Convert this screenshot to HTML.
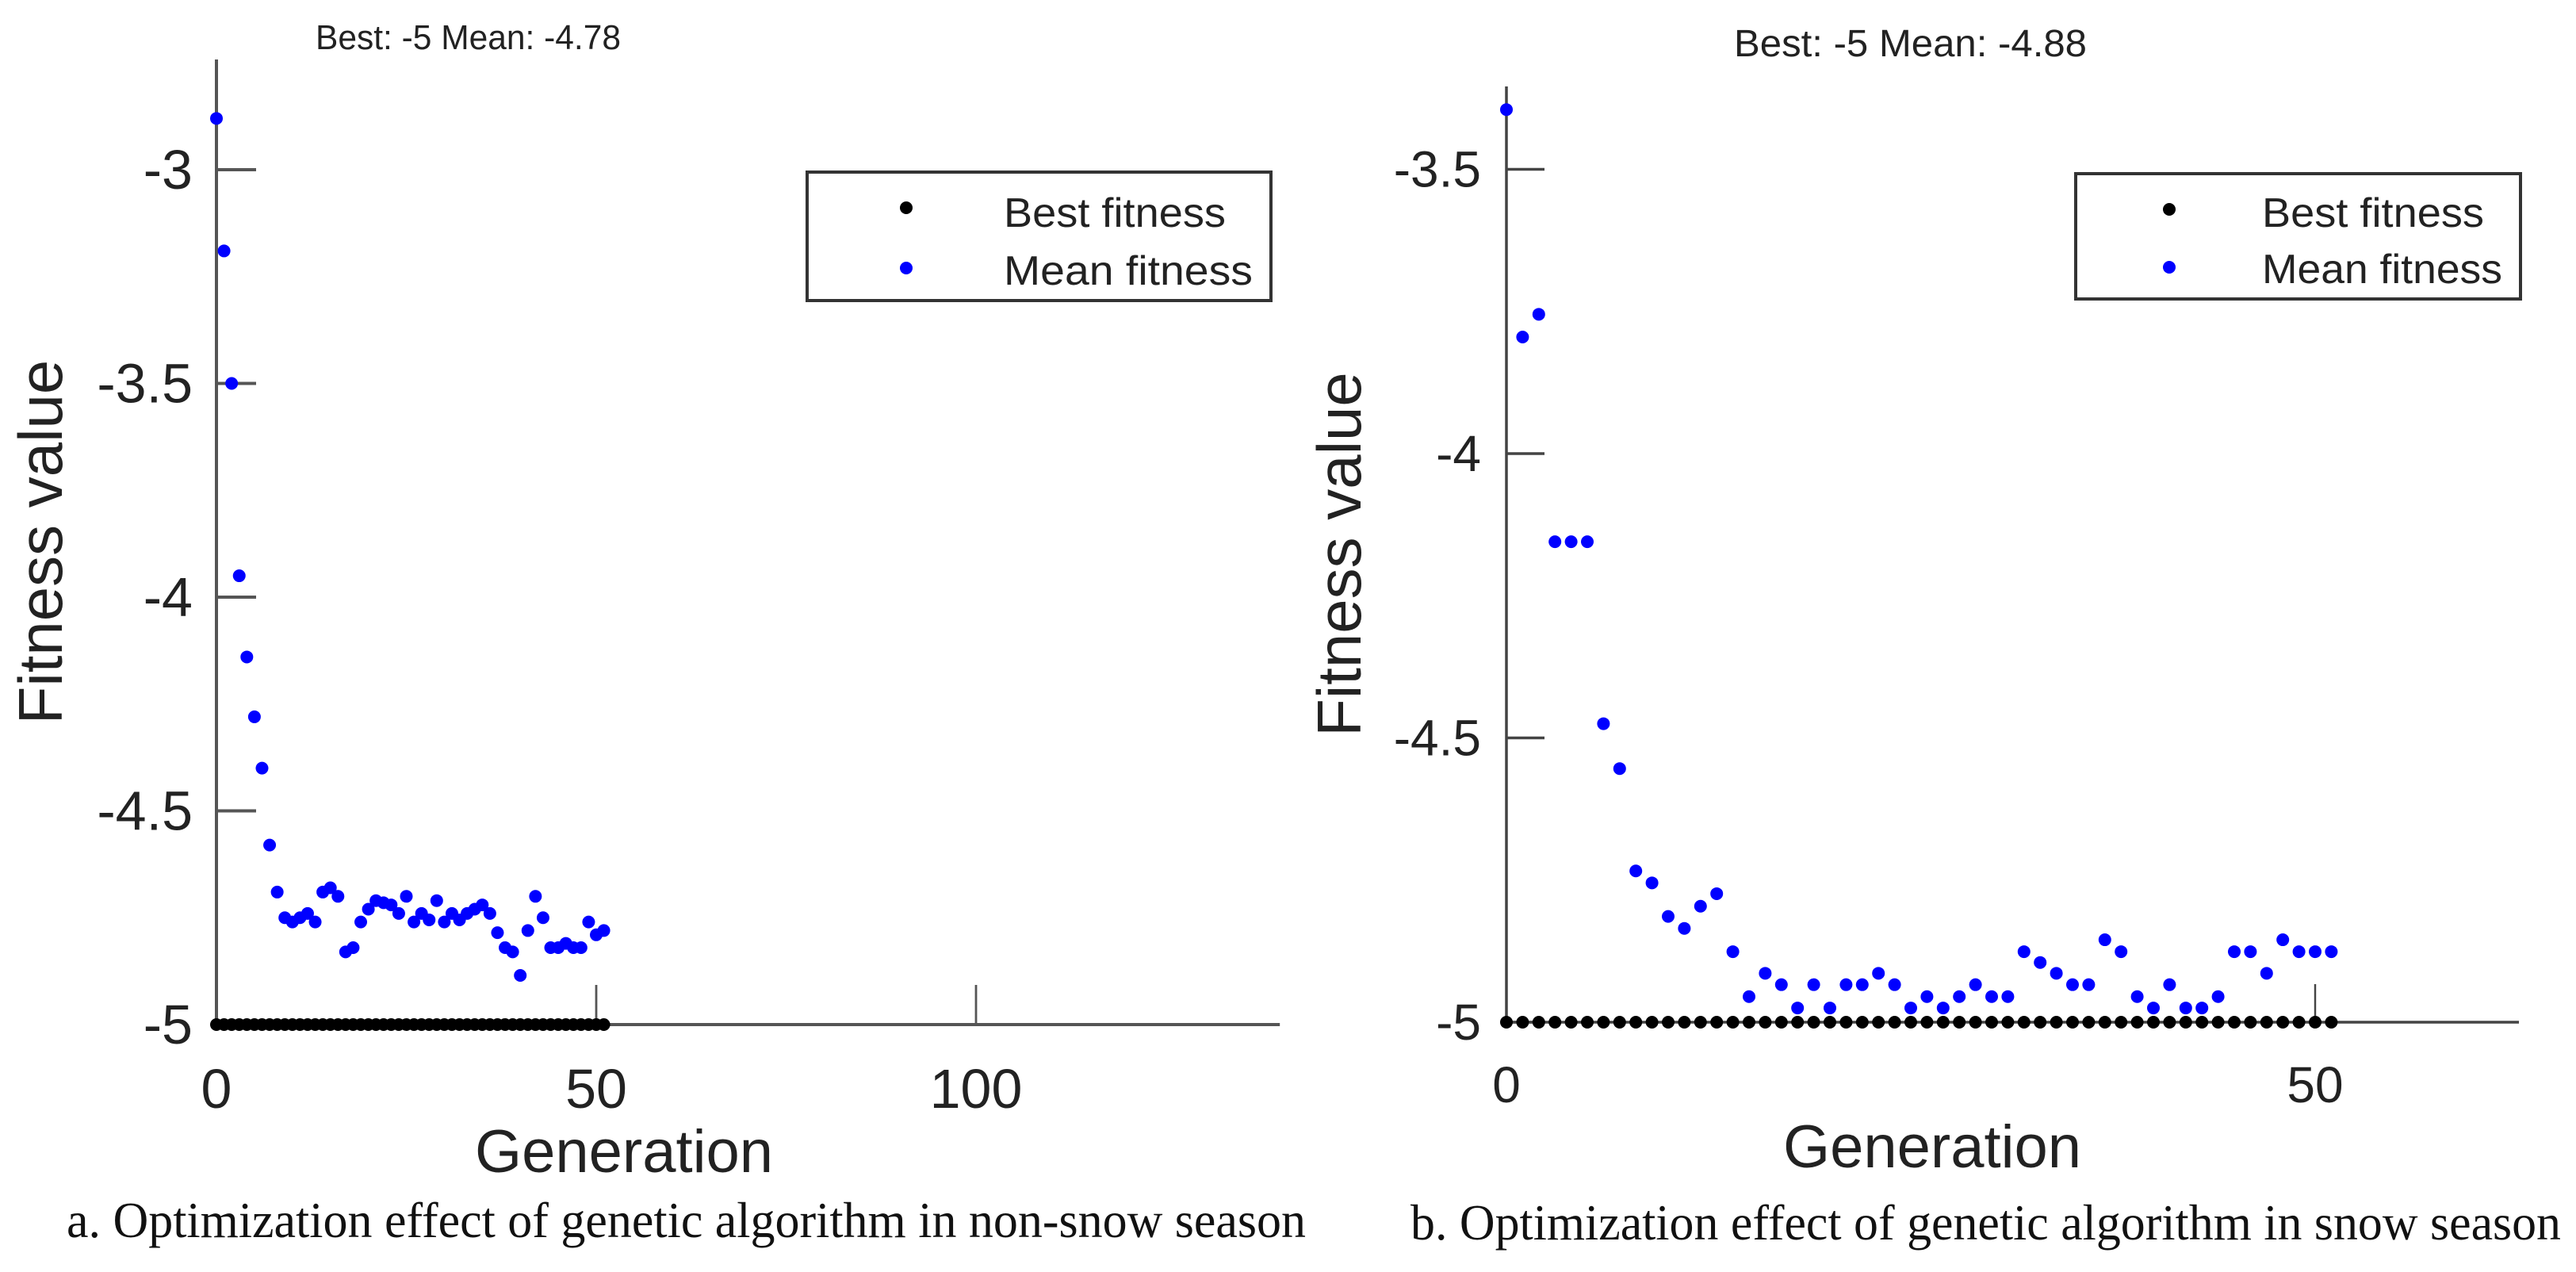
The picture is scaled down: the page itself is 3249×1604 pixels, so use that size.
<!DOCTYPE html>
<html><head><meta charset="utf-8"><style>
html,body{margin:0;padding:0;background:#fff;}
svg{display:block;}
text{font-family:"Liberation Sans",Arial,sans-serif;fill:#222;}
.cap{font-family:"Liberation Serif","Times New Roman",serif;fill:#111;}
</style></head><body>
<svg id="fig" width="3249" height="1604" viewBox="0 0 3249 1604" xmlns="http://www.w3.org/2000/svg">
<g id="pa"></g>
<g id="pb"></g>
<text class="cap" x="84" y="1560" font-size="64" textLength="1563" lengthAdjust="spacingAndGlyphs">a. Optimization effect of genetic algorithm in non-snow season</text>
<text class="cap" x="1779" y="1563" font-size="64" textLength="1451" lengthAdjust="spacingAndGlyphs">b. Optimization effect of genetic algorithm in snow season</text>
</svg>
<script>
// Panel A data (non-snow season)
const genA = Array.from({length:52},(_,i)=>i);
const meanA = [-2.88,-3.19,-3.50,-3.95,-4.14,-4.28,-4.40,-4.58,-4.69,-4.75,-4.76,-4.75,-4.74,-4.76,-4.69,-4.68,-4.70,-4.83,-4.82,-4.76,-4.73,-4.71,-4.715,-4.72,-4.74,-4.70,-4.76,-4.74,-4.755,-4.71,-4.76,-4.74,-4.755,-4.74,-4.73,-4.72,-4.74,-4.785,-4.82,-4.83,-4.885,-4.78,-4.70,-4.75,-4.82,-4.82,-4.81,-4.82,-4.82,-4.76,-4.79,-4.78];
const bestA = [-5,-5,-5,-5,-5,-5,-5,-5,-5,-5,-5,-5,-5,-5,-5,-5,-5,-5,-5,-5,-5,-5,-5,-5,-5,-5,-5,-5,-5,-5,-5,-5,-5,-5,-5,-5,-5,-5,-5,-5,-5,-5,-5,-5,-5,-5,-5,-5,-5,-5,-5,-5];
const yTicksA = [-3,-3.5,-4,-4.5,-5];
const yTickLabelsA = ["-3","-3.5","-4","-4.5","-5"];
const xTicksA = [0,50,100];
const xTickLabelsA = ["0","50","100"];
const titleA = "Best: -5 Mean: -4.78";

// Panel B data (snow season)
const genB = Array.from({length:52},(_,i)=>i);
const meanB = [-3.395,-3.795,-3.755,-4.155,-4.155,-4.155,-4.475,-4.554,-4.734,-4.755,-4.814,-4.835,-4.796,-4.774,-4.876,-4.955,-4.914,-4.934,-4.975,-4.934,-4.975,-4.934,-4.934,-4.914,-4.934,-4.975,-4.955,-4.975,-4.955,-4.934,-4.955,-4.955,-4.876,-4.895,-4.914,-4.934,-4.934,-4.855,-4.876,-4.955,-4.975,-4.934,-4.975,-4.975,-4.955,-4.876,-4.876,-4.914,-4.855,-4.876,-4.876,-4.876];
const bestB = [-5,-5,-5,-5,-5,-5,-5,-5,-5,-5,-5,-5,-5,-5,-5,-5,-5,-5,-5,-5,-5,-5,-5,-5,-5,-5,-5,-5,-5,-5,-5,-5,-5,-5,-5,-5,-5,-5,-5,-5,-5,-5,-5,-5,-5,-5,-5,-5,-5,-5,-5,-5];
const yTicksB = [-3.5,-4,-4.5,-5];
const yTickLabelsB = ["-3.5","-4","-4.5","-5"];
const xTicksB = [0,50];
const xTickLabelsB = ["0","50"];
const titleB = "Best: -5 Mean: -4.88";

const NS="http://www.w3.org/2000/svg";
function mk(parent,tag,attrs,txt){const e=document.createElementNS(NS,tag);for(const k in attrs)e.setAttribute(k,attrs[k]);if(txt!==undefined)e.textContent=txt;parent.appendChild(e);return e;}

function drawPanel(g,cfg,gen,best,mean,yT,yTL,xT,xTL,title){
  const X=v=>cfg.x0+(v-cfg.xmin)*cfg.pxX;
  const Y=v=>cfg.y0-(v-cfg.ymin)*cfg.pxY;
  const axTop=cfg.axTop, xEnd=X(cfg.xmax);
  const t=mk(g,'text',{x:cfg.titleX,y:cfg.titleY,'font-size':cfg.titleFs,textLength:cfg.titleW,lengthAdjust:'spacingAndGlyphs'},title);
  
  
  const ya=mk(g,'line',{x1:X(cfg.xmin),y1:axTop,x2:X(cfg.xmin),y2:Y(cfg.ymin),stroke:cfg.axCol,'stroke-width':cfg.axW});
  
  
  const xa=mk(g,'line',{x1:X(cfg.xmin),y1:Y(cfg.ymin),x2:xEnd,y2:Y(cfg.ymin),stroke:cfg.axCol,'stroke-width':cfg.axW});
  
  
  yT.forEach((v,i)=>{
    const tk=mk(g,'line',{x1:X(cfg.xmin),y1:Y(v),x2:X(cfg.xmin)+cfg.tick,y2:Y(v),stroke:cfg.axCol,'stroke-width':cfg.axW});
    
    
    const lb=mk(g,'text',{x:cfg.yLabX,y:Y(v),'font-size':cfg.tickFs,'text-anchor':'end','dominant-baseline':'central'},yTL[i]);
    
    
  });
  xT.forEach((v,i)=>{
    const tk=mk(g,'line',{x1:X(v),y1:Y(cfg.ymin),x2:X(v),y2:Y(cfg.ymin)-cfg.tick,stroke:cfg.axCol,'stroke-width':cfg.axW*0.7});
    
    
    const lb=mk(g,'text',{x:X(v),y:cfg.xLabY,'font-size':cfg.tickFs,'text-anchor':'middle'},xTL[i]);
    
    
  });
  const xl=mk(g,'text',{x:cfg.xTitleX,y:cfg.xTitleY,'font-size':76,'text-anchor':'middle'},'Generation');
  
  
  const yl=mk(g,'text',{x:0,y:0,'font-size':78,'text-anchor':'middle',transform:`translate(${cfg.yTitleX},${(axTop+Y(cfg.ymin))/2}) rotate(-90)`},'Fitness value');
  
  
  gen.forEach((gv,i)=>{
    const c=mk(g,'circle',{cx:X(gv),cy:Y(best[i]),r:cfg.r,fill:'#000'});
    
    
  });
  gen.forEach((gv,i)=>{
    const c=mk(g,'circle',{cx:X(gv),cy:Y(mean[i]),r:cfg.r,fill:'#0000ff'});
    
    
  });
  const L=cfg.leg;
  const lg=mk(g,'g',{});
  
  
  mk(lg,'rect',{x:L.x,y:L.y,width:L.w,height:L.h,fill:'#fff',stroke:'#333','stroke-width':4});
  const e1=mk(lg,'circle',{cx:L.dx,cy:L.r1,r:8,fill:'#000'});
  
  
  const t1=mk(lg,'text',{x:L.tx,y:L.b1,'font-size':52,textLength:L.tw1,lengthAdjust:'spacingAndGlyphs'},'Best fitness');
  
  
  const e2=mk(lg,'circle',{cx:L.dx,cy:L.r2,r:8,fill:'#0000ff'});
  
  
  const t2=mk(lg,'text',{x:L.tx,y:L.b2,'font-size':52,textLength:L.tw2,lengthAdjust:'spacingAndGlyphs'},'Mean fitness');
  
  
}

drawPanel(document.getElementById('pa'),{
  x0:273,xmin:0,xmax:140,pxX:9.58,y0:1292,ymin:-5,pxY:539,axTop:75,axCol:'#555',axW:4,tick:50,
  yLabX:243,xLabY:1397,tickFs:70,xTitleX:787,xTitleY:1478,yTitleX:78,r:8,
  titleX:398,titleY:62,titleW:385,titleFs:44,
  leg:{x:1018,y:217,w:585,h:162,dx:1143,r1:262,r2:338,tx:1266,b1:286,b2:359,tw1:280,tw2:314}
},genA,bestA,meanA,yTicksA,yTickLabelsA,xTicksA,xTickLabelsA,titleA);

drawPanel(document.getElementById('pb'),{
  x0:1900,xmin:0,xmax:62.6,pxX:20.4,y0:1289,ymin:-5,pxY:717,axTop:109,axCol:'#444',axW:3.5,tick:48,
  yLabX:1868,xLabY:1390,tickFs:64,xTitleX:2437,xTitleY:1472,yTitleX:1716,r:8,
  titleX:2187,titleY:71,titleW:445,titleFs:48,
  leg:{x:2618,y:219,w:561,h:158,dx:2736,r1:264,r2:337,tx:2853,b1:286,b2:357,tw1:280,tw2:303}
},genB,bestB,meanB,yTicksB,yTickLabelsB,xTicksB,xTickLabelsB,titleB);
</script>
</body></html>
